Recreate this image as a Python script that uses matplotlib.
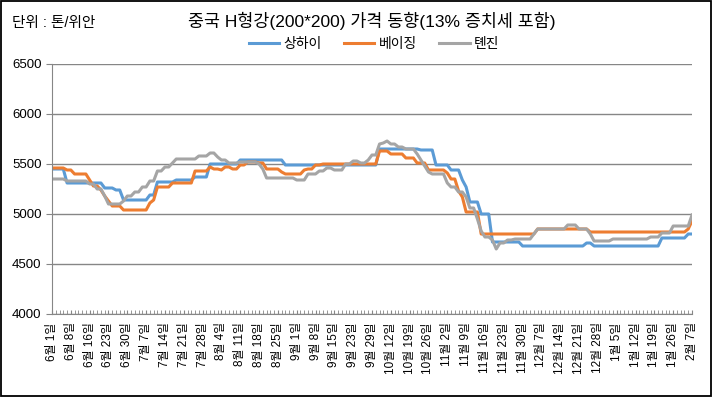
import matplotlib
matplotlib.use("Agg")
import matplotlib.pyplot as plt
from matplotlib.patches import Rectangle

plt.rcParams['font.family'] = ['Liberation Sans', 'Noto Sans CJK KR', 'DejaVu Sans']

# weekly tick labels (one every 5 trading days)
date_labels = ["6월 1일", "6월 8일", "6월 16일", "6월 23일", "6월 30일", "7월 7일", "7월 14일",
               "7월 21일", "7월 28일", "8월 4일", "8월 11일", "8월 18일", "8월 25일", "9월 1일",
               "9월 8일", "9월 15일", "9월 23일", "9월 29일", "10월 12일", "10월 19일", "10월 26일",
               "11월 2일", "11월 9일", "11월 16일", "11월 23일", "11월 30일", "12월 7일", "12월 14일",
               "12월 21일", "12월 28일", "1월 5일", "1월 12일", "1월 19일", "1월 26일", "2월 7일"]

shanghai = ([5450] * 4 + [5310] * 10 + [5260] * 3 + [5240] * 2 + [5140] * 7 + [5190] * 2
            + [5320] * 5 + [5340] * 5 + [5370] * 4 + [5500] * 8 + [5540] * 12 + [5490] * 25
            + [5650] * 11 + [5640] * 4 + [5490] * 4 + [5440] * 3 + [5340] + [5270] + [5120] * 3
            + [5000] * 3 + [4720] * 8 + [4680] * 17 + [4710] * 2 + [4680] * 18 + [4760] * 7
            + [4800] * 2)

beijing = ([5460] * 4 + [5440] * 2 + [5400] * 4 + [5340] + [5280] * 2 + [5240] + [5180, 5130]
           + [5080] * 3 + [5040] * 7 + [5110] + [5140] + [5270] * 4 + [5310] * 6 + [5430] * 4
           + [5470] + [5450] * 2 + [5440] + [5470] * 2 + [5450] * 2 + [5490] * 2 + [5520] * 3
           + [5510] * 2 + [5450] * 4 + [5420] + [5400] * 5 + [5440] + [5450] * 2 + [5490] * 2
           + [5500] * 15 + [5630] * 3 + [5600] * 4 + [5560] * 3 + [5510] * 3 + [5440] * 5
           + [5410] + [5350] * 2 + [5230] + [5170] + [5020] * 4 + [4800] * 15 + [4850] * 14
           + [4820] * 26 + [4850] + [4930])

tianjin = ([5350] * 4 + [5330] * 6 + [5300] * 2 + [5250] * 2 + [5180] + [5100] * 4 + [5130]
           + [5180] * 2 + [5220] * 2 + [5270] * 2 + [5330] * 2 + [5430] * 2 + [5470] * 2 + [5510]
           + [5550] * 6 + [5580] * 3 + [5610] * 2 + [5570] + [5540] * 2 + [5510] * 3 + [5520] * 5
           + [5500] + [5450] + [5360] * 8 + [5340] * 3 + [5400] * 3 + [5430] * 2 + [5460] * 2
           + [5440] * 3 + [5500] * 2 + [5530] * 2 + [5510] * 2 + [5540] + [5590] * 2 + [5700]
           + [5710] + [5730] + [5700] * 2 + [5670] * 2 + [5650] * 3 + [5600] + [5540] + [5480]
           + [5420] + [5400] * 4 + [5310] + [5270] * 2 + [5220] * 2 + [5170] + [5060] * 2 + [4950]
           + [4830] + [4770] * 2 + [4740] + [4650] + [4710] * 2 + [4740] * 2 + [4750] * 5 + [4800]
           + [4850] * 8 + [4890] * 3 + [4850] * 3 + [4800] + [4730] * 5 + [4750] * 10 + [4770] * 3
           + [4810] * 3 + [4880] * 4 + [4880] + [4990])

series = [("상하이", shanghai, "#5B9BD5"), ("베이징", beijing, "#ED7D31"), ("톈진", tianjin, "#A5A5A5")]

fig = plt.figure(figsize=(7.12, 3.97), dpi=100)
ax = fig.add_axes([52 / 712, 1 - 314 / 397, 640 / 712, 250 / 397])

x = list(range(len(shanghai)))
for name, vals, col in series:
    ax.plot(x, vals, color=col, lw=2.2, label=name, solid_joinstyle='round')

ax.set_xlim(0, len(shanghai) - 1)
ax.set_ylim(4000, 6500)
ax.set_yticks(range(4000, 6501, 500))
ax.yaxis.grid(True, color='#868686', lw=1)
ax.set_axisbelow(True)
ax.set_xticks(range(0, len(shanghai), 5))
ax.set_xticklabels(date_labels, rotation=90, fontsize=8.5, va='top', ha='center')
ax.set_xticks(x, minor=True)
ax.tick_params(axis='x', which='both', direction='in', length=3, color='#868686', pad=6)
ax.tick_params(axis='y', direction='out', length=4, color='#868686', labelsize=9.5)
for s in ['top', 'right']:
    ax.spines[s].set_visible(False)
for s in ['left', 'bottom']:
    ax.spines[s].set_color('#868686')

fig.text(372 / 712, 1 - 21 / 397, "중국 H형강(200*200) 가격 동향(13% 증치세 포함)",
         ha='center', va='center', fontsize=12.5)
fig.text(12 / 712, 1 - 23 / 397, "단위 : 톤/위안", ha='left', va='center', fontsize=10.5)
fig.legend(loc='center', bbox_to_anchor=(374 / 712, 1 - 44 / 397), ncol=3, frameon=False,
           fontsize=10, handlelength=2.2, columnspacing=1.6, handletextpad=0.3)

fig.patches.append(Rectangle((0.001, 0.002), 0.997, 0.996, transform=fig.transFigure,
                             fill=False, edgecolor='black', lw=1.3))

fig.savefig("out.png", dpi=100)
